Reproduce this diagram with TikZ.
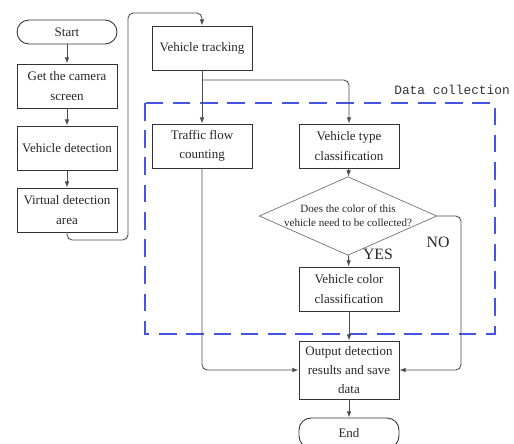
\documentclass[tikz,border=0pt]{standalone}
\usepackage{fontspec}
\setmainfont{Liberation Serif}
\setmonofont{Liberation Mono}
\usetikzlibrary{arrows.meta,shapes.geometric}
\definecolor{frameblue}{RGB}{70,85,225}
\tikzset{
  step box/.style={draw=black!80, line width=0.5pt, minimum width=2cm, minimum height=0.88cm,
    align=center, text=black!85, font=\fontsize{7.4}{11}\selectfont, inner sep=1pt},
  term box/.style={step box, rounded corners=0.24cm, minimum height=0.48cm},
  decide/.style={draw=black!55, diamond, aspect=2.26, minimum width=3.44cm, minimum height=1.52cm,
    inner sep=0pt, align=center, text=black!85, font=\fontsize{6.3}{8}\selectfont},
  flow/.style={draw=black!70, line width=0.5pt, rounded corners=3pt, -{Latex[length=3.5pt,width=2.6pt]}},
}
\begin{document}
\begin{tikzpicture}[x=0.02cm, y=-0.02cm]
		%%%%% START %%%%%
		\useasboundingbox (0, 0) rectangle (514, 443);
		
		% left column
		\node[term box] (start) at (67, 32) {Start};
		\node[step box] (camera) at (67, 86) {Get the camera\\screen};
		\node[step box] (detect) at (67, 148) {Vehicle detection};
		\node[step box] (area) at (67, 210) {Virtual detection\\area};
		
		% right part
		\node[step box] (track) at (202, 48) {Vehicle tracking};
		\node[step box] (count) at (202, 146) {Traffic flow\\counting};
		\node[step box] (type) at (349, 146) {Vehicle type\\classification};
		\node[decide] (ask) at (348, 216) {Does the color of this\\vehicle need to be collected?};
		\node[step box] (color) at (349, 289) {Vehicle color\\classification};
		\node[step box, minimum height=1.16cm] (output) at (349, 370) {Output detection\\results and save\\data};
		\node[term box, minimum height=0.6cm] (finish) at (349, 433) {End};
		
		% data collection frame
		\draw[draw=frameblue, line width=0.65pt, dash pattern=on 10pt off 5.5pt] (145, 103) rectangle (495, 334);
		\node[font=\fontsize{7.3}{9}\ttfamily, text=black!80, anchor=east] (frame) at (516, 90) {Data collection};
		
		% connectors
		\coordinate (low) at (128, 240);
		\coordinate (turn) at (128, 13);
		\coordinate (split) at (202, 80);
		\coordinate (side) at (461, 216);
		\draw[flow] (start) -- (camera);
		\draw[flow] (camera) -- (detect);
		\draw[flow] (detect) -- (area);
		\draw[flow] (area.south) |- (low) -- (turn) -| (track.north);
		\draw[flow] (track) -- (count);
		\draw[flow] (split) -| (type.north);
		\draw[flow] (type) -- (ask);
		\draw[flow] (ask) -- (color);
		\draw[flow] (color) -- (output);
		\draw[flow] (count.south) |- (output.west);
		\draw[flow] (ask.east) -- (side) |- (output.east);
		\draw[flow] (output) -- (finish);
		
		\node[font=\fontsize{9}{10}\selectfont, text=black!85] (yes) at (378, 254) {YES};
		\node[font=\fontsize{9}{10}\selectfont, text=black!85] (no) at (438, 242) {NO};
		%%%%% END %%%%%
	\end{tikzpicture}
\end{document}
